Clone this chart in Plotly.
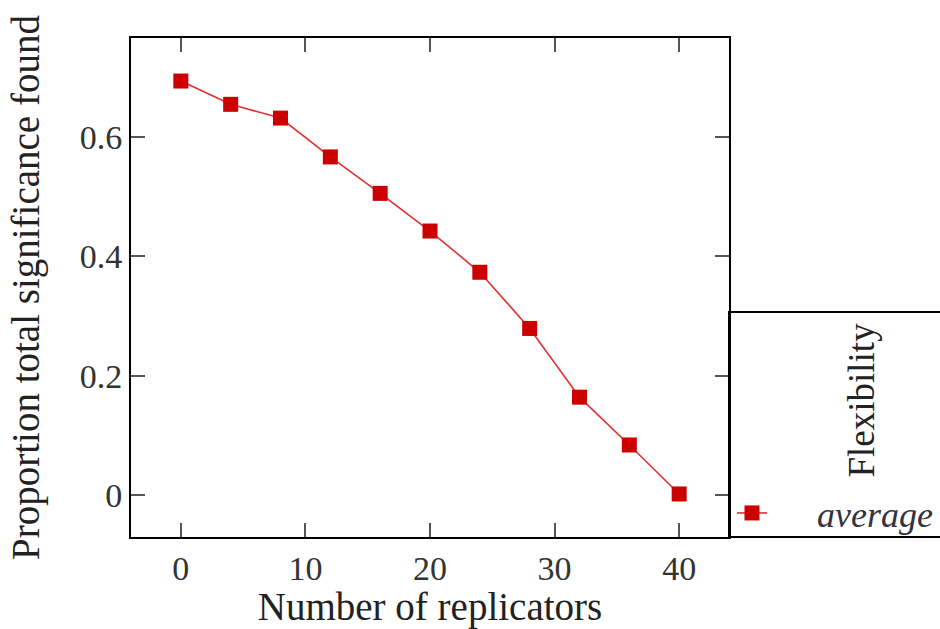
import plotly.graph_objects as go

replicators = [0, 4, 8, 12, 16, 20, 24, 28, 32, 36, 40]
proportion = [0.693, 0.654, 0.631, 0.566, 0.505, 0.442, 0.373, 0.279, 0.164, 0.084, 0.002]
x_ticks = [0, 10, 20, 30, 40]
y_ticks = [0, 0.2, 0.4, 0.6]
y_tick_labels = ["0", "0.2", "0.4", "0.6"]
series_name = "average"
legend_title = "Flexibility"

FONT = "Liberation Serif"
RED = "#cc0000"

fig = go.Figure()
fig.add_trace(go.Scatter(
    x=replicators, y=proportion, mode="lines+markers",
    name="&nbsp;&nbsp;&nbsp;&nbsp;&nbsp;<i>%s</i>" % series_name,
    line=dict(color="#e03030", width=1.6),
    marker=dict(symbol="square", size=15, color=RED),
))

axis_common = dict(
    showline=True, linecolor="black", linewidth=2, mirror="ticks",
    ticks="inside", ticklen=14, tickwidth=1.5, tickcolor="#555555",
    showgrid=False, zeroline=False, automargin=False,
    tickfont=dict(family=FONT, size=34, color="#333333"),
)

fig.update_layout(
    width=940, height=629,
    margin=dict(l=131, r=211, t=38, b=92, autoexpand=False),
    paper_bgcolor="white", plot_bgcolor="white",
    font=dict(family=FONT, color="#222222"),
    xaxis=dict(range=[-4, 44], tickvals=x_ticks,
               title=dict(text="Number of replicators", font=dict(family=FONT, size=39), standoff=14),
               **axis_common),
    yaxis=dict(range=[-0.07, 0.765], tickvals=y_ticks, ticktext=y_tick_labels,
               title=dict(text="Proportion total significance found", font=dict(family=FONT, size=39), standoff=28),
               **axis_common),
    showlegend=True,
    legend=dict(x=1.005, xanchor="left", y=0.048, yanchor="middle",
                bgcolor="rgba(0,0,0,0)", borderwidth=0,
                font=dict(family=FONT, size=36, color="#333344")),
    shapes=[dict(type="rect", xref="paper", yref="paper", x0=1.0, x1=1.36, y0=0, y1=0.451,
                 line=dict(color="black", width=2), layer="above")],
    annotations=[dict(text=legend_title, xref="paper", yref="paper", x=1.222, y=0.275,
                      xanchor="center", yanchor="middle",
                      textangle=-90, showarrow=False,
                      font=dict(family=FONT, size=37, color="#222222"))],
)

fig.write_html("out.html")
